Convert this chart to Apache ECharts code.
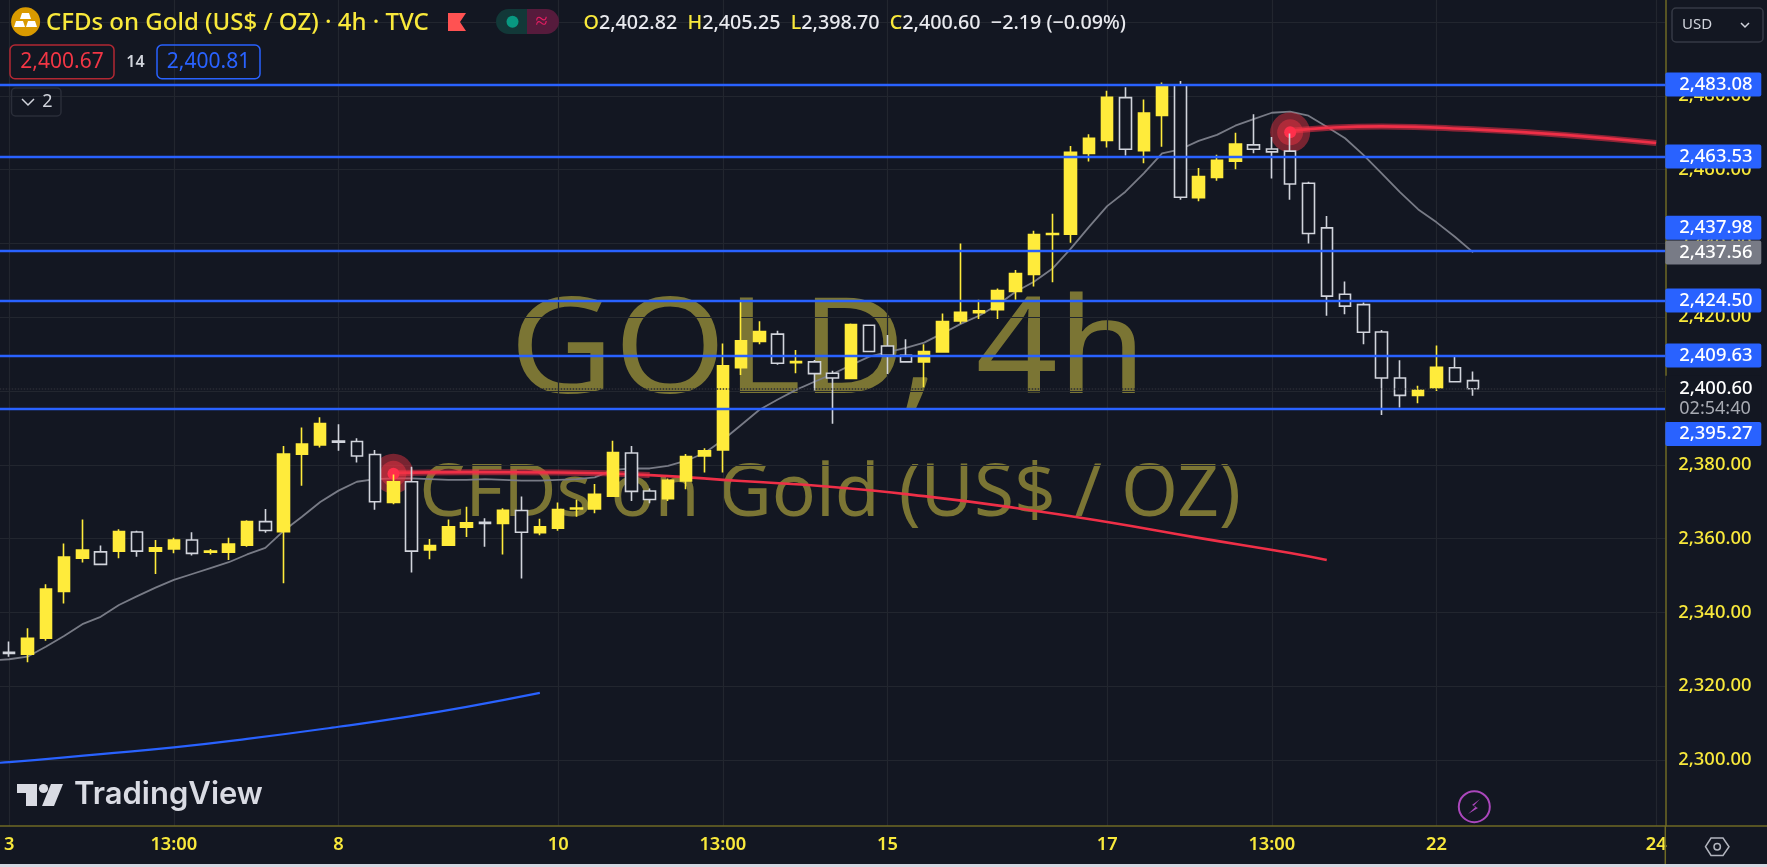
<!DOCTYPE html>
<html>
<head>
<meta charset="utf-8">
<style>html,body{margin:0;padding:0;background:#131722}#c{width:1767px;height:867px}</style>
<script src="https://cdn.jsdelivr.net/npm/echarts@6/dist/echarts.min.js"></script>
</head>
<body>
<div id="c"></div>
<script>
const opens = [2329.2,2328.7,2333,2345.7,2354.7,2356.4,2356.6,2361.8,2356.6,2357.2,2359.6,2356.3,2356.3,2358.2,2364.6,2361.9,2382.9,2385.4,2386.4,2386.3,2382.8,2369.8,2375.4,2356.9,2358.2,2363.1,2364.4,2364.1,2367.6,2361.6,2362.8,2368,2368,2371.5,2383.2,2372.9,2370.8,2375.6,2382.4,2384,2406.3,2413.4,2415.4,2407.7,2407.9,2404.8,2403.4,2417.8,2412.2,2409.7,2407.9,2410.6,2419,2421.2,2422,2427,2431.6,2442.4,2442.5,2464.4,2467.9,2479.5,2465.1,2474.7,2482.9,2452.4,2457.9,2462.3,2466.7,2465.6,2465,2456.3,2444.2,2426.2,2423.4,2416,2403.5,2398.8,2400.9,2406.3,2402.82];
const closes = [2328.9,2333,2346.3,2355,2356.9,2353,2361.9,2356.6,2357.5,2359.6,2356,2356.6,2358.5,2364.6,2362.2,2382.9,2385.6,2391.2,2386.1,2382.4,2370,2375.4,2356.6,2358.1,2363.2,2364.3,2364.1,2367.7,2361.7,2363.2,2367.9,2368.3,2372,2383.3,2372.8,2370.6,2375.8,2382.2,2383.8,2406.8,2413.6,2416.1,2407.5,2408,2404.7,2403.5,2418,2410.7,2409.7,2407.9,2410.7,2418.8,2421.3,2421.7,2427.2,2431.8,2442.4,2442.7,2464.7,2468.5,2479.6,2465.5,2475.3,2483,2452.5,2458.1,2462.5,2466.9,2465.5,2464.8,2456.1,2442.7,2425.7,2423,2415.9,2403.5,2398.8,2400.2,2406.4,2402.5,2400.6];
const lows = [2328,2326.5,2332.3,2342.4,2353.5,2353,2354.7,2355.1,2350.4,2356,2355.4,2355.7,2354.2,2357.8,2361.6,2347.9,2374.3,2384.7,2383.8,2380.6,2367.8,2369.3,2350.8,2354.4,2358.1,2360.4,2357.8,2355.7,2349.2,2360.9,2362.1,2365.9,2366.9,2371.5,2370.2,2369.6,2370.2,2373.4,2377.9,2377.9,2404.3,2412.7,2407.1,2404.8,2400.1,2391.1,2403.4,2410.5,2404.6,2407.8,2401,2410.5,2418.2,2419.5,2419.5,2424.7,2428.3,2429.5,2440.2,2462.2,2466,2463.8,2461.7,2466.2,2451.8,2451.4,2457,2460.1,2464.4,2457.6,2451.8,2440,2420.4,2420.8,2412.7,2393.5,2395.5,2396.7,2400,2402.5,2398.7];
const highs = [2332.1,2335.7,2347.6,2358.7,2365.2,2358.1,2362.5,2362.1,2359.6,2360.2,2361.7,2357.2,2360.2,2365,2368,2385.1,2390.1,2392.9,2391,2387.2,2384,2377.4,2379.5,2359.9,2365.2,2368.6,2365.5,2368.2,2371.4,2365.4,2369.8,2370.5,2374.8,2386.5,2385.1,2373.6,2376.3,2382.9,2384.5,2412.9,2424.5,2418.9,2416.3,2411.1,2408.4,2405.5,2418.3,2418,2415.2,2414,2412.7,2421,2440,2424.7,2427.8,2432.8,2443.4,2448,2466.4,2469.6,2481.4,2482.3,2479,2483.6,2484,2460.4,2464,2470,2475,2468.8,2469.8,2456.7,2447.4,2429.7,2424,2416.5,2408.3,2401.4,2412.3,2409.5,2405.25];
const maValues = [2327,2327.3,2328,2330.7,2333.6,2336.8,2338.8,2342,2344.4,2346.7,2348.8,2350.4,2352,2353.6,2355.7,2357.5,2362.1,2365.9,2369.9,2373,2375.4,2376.1,2376.3,2376.3,2376.1,2375.9,2375.9,2376.1,2375.9,2375.7,2375.7,2375.9,2376.1,2376.6,2378.6,2379,2379,2379.7,2381.1,2383.2,2386.7,2390.8,2394.9,2397.7,2400.3,2402.5,2404.6,2407,2409.3,2410.5,2411.7,2413.1,2415.6,2418.2,2420.4,2423.3,2426.9,2429.6,2433.1,2438.5,2444.4,2450.1,2454,2459,2464.4,2465.5,2467.8,2469.4,2471.9,2473.7,2475.4,2475.7,2474.6,2471.6,2468.5,2464,2459,2453.9,2449.2,2445.7,2441.8,2437.56];
const redAIdx = [21,25,30,35,40,45,50,55,60,65,70,72];
const redAVal = [2377.8,2378,2377.9,2377.2,2375.6,2374,2371.5,2368.3,2364.5,2360.2,2356.1,2354.2];
const redBIdx = [70,72,75,80,85,90];
const redBVal = [2470.5,2471.3,2471.7,2470.9,2469.4,2467.2];
const blueIdx = [-1,0,5,9,13,18,22,25,29];
const blueVal = [2299.2,2299.4,2301.6,2303.4,2305.7,2309,2311.9,2314.4,2318.2];
const levels = [2483.08,2463.53,2437.98,2424.50,2409.63,2395.27];
const levelShift = [0,0,-23,0,0,25.6];
const maLast = 2437.56;
const lastPrice = 2400.60;
const countdown = '02:54:40';
const pulseIdx = [21,70];
const pulseVal = [2377.6,2470.1];
const tickIdx = [0,9,18,30,39,48,60,69,78,90];
const tickText = ['3','13:00','8','10','13:00','15','17','13:00','22','24'];
const priceLabels = [2300,2320,2340,2360,2380,2400,2420,2440,2460,2480];
const priceGrid = [2300,2320,2340,2360,2380,2400,2420,2440,2460,2480,2500];

const LEAD = 1, BANDS = 92;
const categories = new Array(BANDS).fill('');
tickIdx.forEach((t,i)=>{categories[t+LEAD]=tickText[i];});
const BG='#131722', YEL='#ffeb3b', AX='#6f6a24', BLUE='#2962ff', RED='#ef2f47';
const FONT='"Noto Sans"';
const fmt=v=>v.toLocaleString('en-US',{minimumFractionDigits:2,maximumFractionDigits:2});
const candle=[['-','-','-','-']].concat(opens.map((o,i)=>[o,closes[i],lows[i],highs[i]]));
const pts=(ix,v)=>ix.map((x,i)=>[x+LEAD,v[i]]);
const redA=pts(redAIdx,redAVal), redB=pts(redBIdx,redBVal);
const tagLabel=(bg,shift,col)=>({show:true,position:'end',distance:0,offset:[0,shift],backgroundColor:bg,color:col||'#fff',
  fontFamily:FONT,fontSize:18.4,fontWeight:500,width:73,padding:[3,9,3,14],lineHeight:18,borderRadius:2});
const lineData=levels.map((v,i)=>({yAxis:v,lineStyle:{color:BLUE,width:2.4,type:'solid'},label:Object.assign(tagLabel(BLUE,levelShift[i]),{formatter:fmt(v)})}));
lineData.push({yAxis:maLast,lineStyle:{color:'rgba(0,0,0,0)',width:1},label:Object.assign(tagLabel('#787b86',0),{formatter:fmt(maLast)})});
lineData.push({yAxis:lastPrice,lineStyle:{color:'#2a2c35',width:1.5,type:'dotted'},label:{show:true,position:'end',distance:0,offset:[0,10],backgroundColor:BG,
  width:73,padding:[2,9,2,14],formatter:'{a|'+fmt(lastPrice)+'}\n{b|'+countdown+'}',
  rich:{a:{color:'#fff',fontFamily:FONT,fontSize:18.4,fontWeight:500,lineHeight:21},b:{color:'#a8abb3',fontFamily:FONT,fontSize:18,lineHeight:21}}}});

const txt=(x,y,t,o)=>({type:'text',x,y,silent:true,z:20,style:Object.assign({text:t,fill:'#fff',font:'17px '+FONT,textVerticalAlign:'middle',verticalAlign:'middle'},o||{})});
const box=(x,y,w,h,r,stroke,fill,lw)=>({type:'rect',silent:true,z:20,shape:{x,y,width:w,height:h,r},style:{stroke,fill:fill||'none',lineWidth:lw||1.5}});
const graphic=[
 {type:'text',x:828,y:354.6,scaleX:1.07,z:-1,silent:true,style:{text:'GOLD, 4h',fill:'#7b7534',font:'134px '+FONT,align:'center',verticalAlign:'middle'}},
 {type:'text',x:830,y:495,z:-1,silent:true,style:{text:'CFDs on Gold (US$ / OZ)',fill:'#7b7534',font:'73px '+FONT,align:'center',verticalAlign:'middle'}},
 // header
 {type:'circle',silent:true,z:20,shape:{cx:25.6,cy:21.7,r:14.5},style:{fill:'#d99a00'}},
 {type:'polygon',silent:true,z:21,shape:{points:[[22,13],[29,13],[31,19],[20,19]]},style:{fill:'#fff'}},
 {type:'polygon',silent:true,z:21,shape:{points:[[16,21],[23,21],[25,27],[14,27]]},style:{fill:'#fff'}},
 {type:'polygon',silent:true,z:21,shape:{points:[[28,21],[35,21],[37,27],[26,27]]},style:{fill:'#fff'}},
 txt(46,23,'CFDs on Gold (US$ / OZ) · 4h · TVC',{fill:'#f9e93b',font:'500 24px '+FONT}),
 {type:'polygon',silent:true,z:20,shape:{points:[[448,13],[466,13],[460,22],[466,31],[448,31]]},style:{fill:'#ff5252'}},
 {type:'rect',silent:true,z:20,shape:{x:496,y:9,width:31,height:25,r:[12.5,0,0,12.5]},style:{fill:'#123838'}},
 {type:'rect',silent:true,z:20,shape:{x:527,y:9,width:32,height:25,r:[0,12.5,12.5,0]},style:{fill:'#561b3c'}},
 {type:'circle',silent:true,z:21,shape:{cx:512.5,cy:21.7,r:6},style:{fill:'#089981'}},
 txt(541.5,22,'≈',{fill:'#e91e63',font:'22px '+FONT,align:'center'}),
 {type:'text',x:583.5,y:23,silent:true,z:20,style:{verticalAlign:'middle',font:'500 19.7px '+FONT,fill:'#e8e9ee',
   text:'{y|O}2,402.82  {y|H}2,405.25  {y|L}2,398.70  {y|C}2,400.60  −2.19 (−0.09%)',rich:{y:{fill:'#f9e93b',font:'500 19.7px '+FONT}}}},
 box(10,45,104,33.7,5,'#b22833'),
 txt(62,62,'2,400.67',{fill:'#f23645',font:'21px '+FONT,align:'center'}),
 txt(135.5,62,'14',{fill:'#d1d4dc',font:'600 16px '+FONT,align:'center'}),
 box(157,45,103,33.7,5,BLUE),
 txt(208.5,62,'2,400.81',{fill:BLUE,font:'21px '+FONT,align:'center'}),
 box(11.5,88,49.5,28,4,'#2a2e39'),
 {type:'polyline',silent:true,z:20,shape:{points:[[22,99],[28,105],[34,99]]},style:{stroke:'#d1d4dc',lineWidth:1.5,fill:'none'}},
 txt(47.5,102,'2',{fill:'#d1d4dc',font:'18px '+FONT,align:'center'}),
 box(1672,8,91,34,4,'#363a45'),
 txt(1682,25,'USD',{fill:'#d1d4dc',font:'15px '+FONT}),
 {type:'polyline',silent:true,z:20,shape:{points:[[1741,23],[1745,27],[1749,23]]},style:{stroke:'#d1d4dc',lineWidth:1.5,fill:'none'}},
 // logo
 {type:'polygon',silent:true,z:20,shape:{points:[[17,784],[37,784],[37,806],[26,806],[26,793],[17,793]]},style:{fill:'#d9dbe3'}},
 {type:'circle',silent:true,z:20,shape:{cx:43.5,cy:788.5,r:4.6},style:{fill:'#d9dbe3'}},
 {type:'polygon',silent:true,z:20,shape:{points:[[51,784],[63,784],[54,806],[42,806]]},style:{fill:'#d9dbe3'}},
 txt(74,795,'TradingView',{fill:'#d9dbe3',font:'600 31px Inter'}),
 // lightning
 {type:'circle',silent:true,z:20,shape:{cx:1474.3,cy:806.7,r:15.5},style:{stroke:'#ab47bc',lineWidth:2,fill:'none'}},
 {type:'polygon',silent:true,z:20,shape:{points:[[1480,799],[1472,805],[1476,806.5],[1468,814],[1478,808],[1473.5,806]]},style:{fill:'#ab47bc'}},
 // settings
 {type:'polygon',silent:true,z:20,shape:{points:[[1705.5,846.7],[1711,838],[1723,838],[1729,846.7],[1723,855.5],[1711,855.5]]},style:{stroke:'#b2b5be',lineWidth:1.5,fill:'none'}},
 {type:'circle',silent:true,z:20,shape:{cx:1717.2,cy:846.7,r:3.2},style:{stroke:'#b2b5be',lineWidth:1.5,fill:'none'}},
 // axis continuation
 {type:'line',silent:true,z:1,shape:{x1:1665.3,y1:826,x2:1767,y2:826},style:{stroke:AX,lineWidth:1.5}},
 {type:'line',silent:true,z:1,shape:{x1:1665.3,y1:826,x2:1665.3,y2:864},style:{stroke:AX,lineWidth:1.5}},
 {type:'rect',silent:true,z:30,shape:{x:0,y:864,width:1767,height:3},style:{fill:'#d5d8e2'}}
];
const chart=echarts.init(document.getElementById('c'),null,{renderer:'canvas'});
chart.setOption({
 animation:false,backgroundColor:BG,
 graphic:graphic,
 grid:{left:-18.3,top:0,width:1683.6,height:826,containLabel:false,outerBoundsMode:'none'},
 xAxis:{type:'category',data:categories,boundaryGap:true,
  axisLine:{show:true,lineStyle:{color:AX,width:1.5}},axisTick:{show:false,alignWithLabel:true},
  axisLabel:{interval:0,color:'#f9e93b',fontFamily:FONT,fontWeight:600,fontSize:18.3,margin:10,showMinLabel:true,showMaxLabel:true},
  splitLine:{show:true,alignWithLabel:true,interval:(i,v)=>v!=='',lineStyle:{color:'#22262f',width:1.2}}},
 yAxis:{type:'value',position:'right',min:2282.11,max:2505.96,
  axisLine:{show:true,onZero:false,lineStyle:{color:AX,width:1.5}},
  axisTick:{show:false,customValues:priceGrid},
  axisLabel:{customValues:priceLabels,color:'#f9e93b',fontFamily:FONT,fontWeight:500,fontSize:18.4,margin:13,formatter:v=>fmt(v),showMinLabel:true,showMaxLabel:true},
  splitLine:{show:true,lineStyle:{color:'#22262f',width:1.2}}},
 series:[
  {name:'Levels',type:'line',z:1,symbol:'none',data:pts(blueIdx,blueVal),smooth:true,lineStyle:{color:BLUE,width:2.2},
   markLine:{silent:true,symbol:'none',animation:false,data:lineData}},
  {name:'EMA',type:'line',z:2,symbol:'none',data:maValues,lineStyle:{color:'#787b86',width:1.8}},
  {name:'Red A glow',type:'line',z:2,symbol:'none',smooth:true,data:redA.slice(0,4),lineStyle:{color:'rgba(239,47,71,.55)',width:6}},
  {name:'Red A',type:'line',z:2,symbol:'none',smooth:true,data:redA,lineStyle:{color:RED,width:2.6}},
  {name:'Red B glow',type:'line',z:2,symbol:'none',smooth:true,data:redB,lineStyle:{color:'rgba(239,47,71,.55)',width:6}},
  {name:'Red B',type:'line',z:2,symbol:'none',smooth:true,data:redB,lineStyle:{color:RED,width:2.6}},
  {name:'Pulse 1',type:'scatter',z:2,symbolSize:40,data:pts(pulseIdx,pulseVal),itemStyle:{color:'rgba(242,54,69,.45)',opacity:1}},
  {name:'Pulse 2',type:'scatter',z:2,symbolSize:26,data:pts(pulseIdx,pulseVal),itemStyle:{color:'rgba(242,54,69,.45)',opacity:1}},
  {name:'Pulse 3',type:'scatter',z:2,symbolSize:12,data:pts(pulseIdx,pulseVal),itemStyle:{color:'#ff2f4b',opacity:1}},
  {name:'Gold',type:'candlestick',z:3,data:candle,barWidth:12,
   itemStyle:{color:YEL,color0:BG,borderColor:YEL,borderColor0:'#d1d4dc',borderWidth:1.6}}
 ]
});
</script>
</body>
</html>
